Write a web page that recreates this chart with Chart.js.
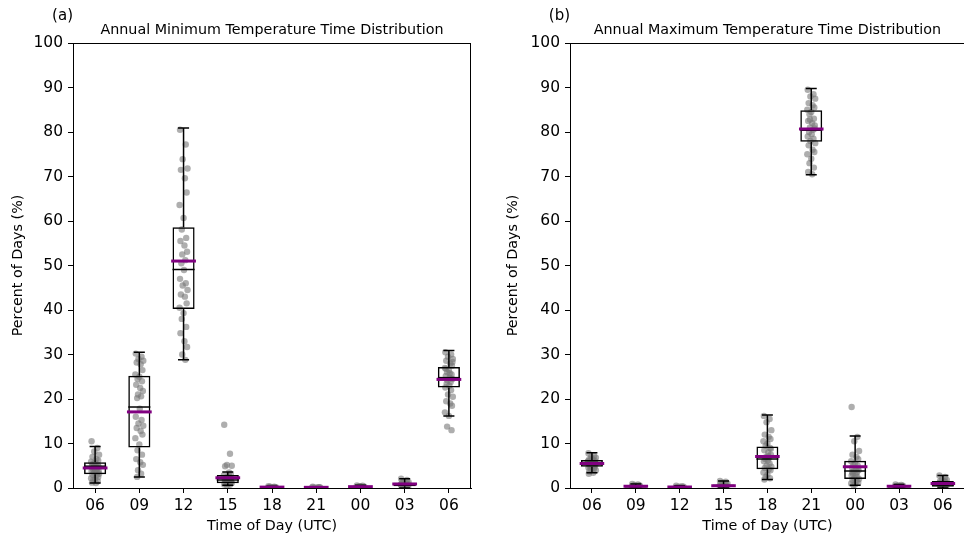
<!DOCTYPE html>
<html><head><meta charset="utf-8">
<script src="https://cdn.jsdelivr.net/npm/chart.js@4.4.0/dist/chart.umd.min.js"></script>
<style>
html,body{margin:0;padding:0;width:964px;height:537px;overflow:hidden;background:#fff}
#a{position:absolute;left:0;top:0}
#b{position:absolute;left:482px;top:0}
</style></head><body>
<canvas id="a" width="482" height="537"></canvas>
<canvas id="b" width="486" height="537"></canvas>
<script>
// ---------- data ----------
const categories = ['06','09','12','15','18','21','00','03','06'];
const yTickValues = [0,10,20,30,40,50,60,70,80,90,100];

// Panel (a): annual minimum temperature
const minWhiskerLow  = [1.1, 2.5, 28.8, 0.6, 0.0, 0.0, 0.0, 0.0, 16.2];
const minQ1          = [3.1, 9.1, 40.2, 1.05, 0.05, 0.03, 0.1, 0.4, 22.6];
const minMedian      = [4.9, 18.2, 49.1, 1.8, 0.1, 0.1, 0.2, 0.7, 24.8];
const minQ3          = [5.8, 25.2, 58.6, 2.9, 0.2, 0.15, 0.35, 1.2, 27.2];
const minWhiskerHigh = [9.3, 30.5, 80.9, 3.6, 0.4, 0.3, 0.6, 2.1, 30.9];
const minMean        = [4.5, 17.1, 51.0, 2.3, 0.2, 0.15, 0.3, 0.9, 24.4];
const minPoints = [
  [10.5,9.0,8.2,7.5,7.0,6.5,6.2,5.9,5.7,5.5,5.2,5.0,4.9,4.8,4.6,4.4,4.2,4.0,3.8,3.6,3.4,3.2,3.0,2.8,2.5,2.2,2.0,1.8,1.5,1.2,1.1,3.9,4.5],
  [30.2,29.5,29.0,28.6,28.2,27.8,26.5,25.5,25.0,24.5,24.0,23.2,22.5,21.8,21.0,20.6,20.2,17.8,16.0,15.3,14.5,14.0,13.5,12.8,12.0,11.2,9.8,8.5,7.5,6.5,5.8,5.2,4.0,3.2,2.5],
  [80.5,77.2,73.9,71.8,71.5,69.6,66.4,63.6,60.7,58.1,56.2,55.5,54.5,53.1,52.5,51.2,50.5,49.0,47.0,46.0,45.5,44.5,43.5,43.0,41.5,40.5,39.3,38.0,36.2,34.8,33.0,31.7,30.0,28.8],
  [14.2,7.7,5.2,5.0,4.9,3.5,3.0,2.8,2.5,2.3,2.0,1.8,1.6,1.5,1.3,1.2,1.0,0.9,0.8,0.7,0.6,1.1,1.9,2.6,1.4],
  [0.4,0.3,0.2,0.2,0.1,0.1,0.1,0.0,0.0,0.3,0.2,0.1],
  [0.3,0.2,0.1,0.1,0.0,0.0,0.2,0.1],
  [0.6,0.5,0.4,0.3,0.3,0.2,0.2,0.1,0.4],
  [2.1,1.8,1.5,1.3,1.2,1.0,0.9,0.8,0.7,0.6,0.5,0.4,0.3,0.2,0.1,0.8,1.1],
  [30.5,30.0,29.5,29.0,28.6,28.0,27.5,27.0,26.5,26.0,25.5,25.2,24.8,24.5,24.2,23.8,23.5,23.0,22.6,22.0,21.0,20.5,19.5,19.0,18.5,17.0,16.2,13.8,13.0,26.8,25.8,28.3]
];

// Panel (b): annual maximum temperature
const maxWhiskerLow  = [3.4, 0.0, 0.0, 0.0, 1.9, 70.4, 0.6, 0.0, 0.0];
const maxQ1          = [4.8, 0.2, 0.1, 0.2, 4.2, 77.8, 2.0, 0.2, 0.3];
const maxMedian      = [5.3, 0.3, 0.2, 0.4, 6.5, 80.4, 3.8, 0.3, 0.7];
const maxQ3          = [6.3, 0.5, 0.3, 0.8, 9.3, 84.9, 6.1, 0.5, 1.6];
const maxWhiskerHigh = [7.9, 0.9, 0.5, 1.6, 16.4, 89.8, 11.7, 0.8, 2.8];
const maxMean        = [5.5, 0.4, 0.2, 0.5, 7.1, 80.7, 4.8, 0.4, 1.0];
const maxPoints = [
  [7.8,7.2,7.0,6.8,6.5,6.3,6.1,6.0,5.8,5.6,5.5,5.4,5.3,5.2,5.1,5.0,4.9,4.8,4.6,4.4,4.2,4.0,3.7,3.4,5.7,5.9,6.6,5.3,4.7,3.2],
  [0.9,0.8,0.7,0.6,0.5,0.4,0.4,0.3,0.3,0.2,0.2,0.1,0.0,0.5],
  [0.5,0.4,0.3,0.3,0.2,0.2,0.1,0.1,0.0,0.0],
  [1.6,1.4,1.2,1.0,0.8,0.7,0.6,0.5,0.4,0.3,0.2,0.1,0.0,0.2],
  [16.2,15.5,14.8,13.0,12.0,11.5,11.0,10.5,10.0,9.5,9.0,8.5,8.0,7.5,7.0,6.8,6.5,6.2,6.0,5.5,5.0,4.8,4.5,4.2,4.0,3.5,3.0,2.5,2.2,1.9,7.2,8.8],
  [89.5,88.5,88.0,87.5,86.5,86.0,85.5,85.0,84.5,84.0,83.0,82.5,82.0,81.5,81.0,80.5,80.0,79.5,79.0,78.5,78.0,77.5,77.0,76.0,75.5,75.0,74.0,73.0,72.0,71.0,70.5,80.8,82.8],
  [18.2,11.5,10.5,8.3,7.5,7.0,6.5,6.0,5.6,5.2,5.0,4.6,4.2,4.0,3.8,3.5,3.2,3.0,2.8,2.5,2.2,2.0,1.8,1.5,1.2,1.0,0.8,0.6,4.4,3.6],
  [0.8,0.7,0.6,0.5,0.4,0.4,0.3,0.3,0.2,0.1,0.0],
  [2.8,2.5,2.0,1.8,1.6,1.4,1.2,1.0,0.9,0.8,0.7,0.6,0.5,0.4,0.3,0.2,0.1,0.0,1.1,1.5]
];

// fixed horizontal jitter pattern (category units)
const jitter = [-0.08,0.05,-0.02,0.09,-0.06,0.03,0.07,-0.09,0.0,-0.04,0.06,-0.07,0.02,0.08,-0.03,0.04,-0.05,0.01];

// ---------- chart ----------
Chart.defaults.font.family = "'DejaVu Sans', sans-serif";
Chart.defaults.color = '#000';

function makeChart(id, o) {
  const pts = [];
  o.points.forEach((arr, i) => arr.forEach((v, j) => pts.push({x: i + 1 + jitter[j % jitter.length], y: v})));
  const boxes = o.q1.map((v, i) => ({x: i + 1, y: [v, o.q3[i]]}));

  const boxPlugin = {
    id: 'boxExtras',
    afterDatasetsDraw(chart) {
      const {ctx, chartArea: a, scales: {x, y}} = chart;
      ctx.save();
      ctx.beginPath(); ctx.rect(a.left, a.top, a.right - a.left, a.bottom - a.top); ctx.clip();
      const hx = (i, w) => [x.getPixelForValue(i + 1 - w), x.getPixelForValue(i + 1 + w)];
      for (let i = 0; i < categories.length; i++) {
        const cx = x.getPixelForValue(i + 1);
        ctx.strokeStyle = '#000'; ctx.lineWidth = 1.5;
        ctx.beginPath();
        ctx.moveTo(cx, y.getPixelForValue(o.q3[i])); ctx.lineTo(cx, y.getPixelForValue(o.high[i]));
        ctx.moveTo(cx, y.getPixelForValue(o.q1[i])); ctx.lineTo(cx, y.getPixelForValue(o.low[i]));
        const [c0, c1] = hx(i, 0.125);
        ctx.moveTo(c0, y.getPixelForValue(o.high[i])); ctx.lineTo(c1, y.getPixelForValue(o.high[i]));
        ctx.moveTo(c0, y.getPixelForValue(o.low[i])); ctx.lineTo(c1, y.getPixelForValue(o.low[i]));
        ctx.stroke();
        const [b0, b1] = hx(i, 0.25);
        ctx.beginPath();
        ctx.moveTo(b0, y.getPixelForValue(o.median[i])); ctx.lineTo(b1, y.getPixelForValue(o.median[i]));
        ctx.stroke();
        const [m0, m1] = hx(i, 0.28);
        ctx.strokeStyle = '#800080'; ctx.lineWidth = 3;
        ctx.beginPath();
        ctx.moveTo(m0, y.getPixelForValue(o.mean[i])); ctx.lineTo(m1, y.getPixelForValue(o.mean[i]));
        ctx.stroke();
      }
      ctx.restore();
    },
    afterDraw(chart) {
      const {ctx, chartArea: a} = chart;
      ctx.save();
      ctx.strokeStyle = '#000'; ctx.lineWidth = 1;
      ctx.strokeRect(Math.round(a.left) + 0.5, Math.round(a.top) + 0.5, Math.round(a.right - a.left) - 1, Math.round(a.bottom - a.top));
      ctx.fillStyle = '#000';
      ctx.textBaseline = 'middle';
      ctx.textAlign = 'right';
      ctx.font = "15px 'DejaVu Sans'";
      ctx.fillText(o.panel, a.left, 16);
      ctx.textAlign = 'center';
      ctx.font = "14.3px 'DejaVu Sans'";
      ctx.fillText(o.title, (a.left + a.right) / 2, 30);
      ctx.restore();
    }
  };

  return new Chart(document.getElementById(id), {
    type: 'bar',
    data: {
      datasets: [
        {type: 'scatter', data: pts, order: 2, pointRadius: 3.2, pointHoverRadius: 3.2,
         backgroundColor: 'rgba(120,120,120,0.6)', borderWidth: 0},
        {type: 'bar', data: boxes, order: 1, backgroundColor: 'rgba(0,0,0,0)', borderColor: '#000',
         borderWidth: 1.5, borderSkipped: false, barPercentage: 0.5, categoryPercentage: 1.0}
      ]
    },
    options: {
      responsive: false, animation: false,
      layout: {padding: {top: 43, right: o.padRight, left: 0, bottom: 0}},
      plugins: {legend: {display: false}, tooltip: {enabled: false}},
      scales: {
        x: {
          type: 'linear', min: 0.5, max: 9.5, offset: false,
          afterBuildTicks: s => { s.ticks = categories.map((c, i) => ({value: i + 1})); },
          afterFit: s => { s.height = 49; },
          ticks: {callback: (v, i) => categories[i], font: {size: 15.5}, padding: 4, maxRotation: 0, autoSkip: false},
          grid: {display: true, drawOnChartArea: false, drawTicks: true, tickLength: 5, color: '#000', offset: false},
          border: {display: true, color: '#000', width: 1},
          title: {display: true, text: 'Time of Day (UTC)', font: {size: 14.3}, padding: {top: 0, bottom: 2.4}}
        },
        y: {
          type: 'linear', min: 0, max: 100,
          afterBuildTicks: s => { s.ticks = yTickValues.map(v => ({value: v})); },
          afterFit: s => { s.width = o.yWidth; },
          ticks: {font: {size: 15.5}, padding: 5},
          grid: {display: true, drawOnChartArea: false, drawTicks: true, tickLength: 5, color: '#000'},
          border: {display: true, color: '#000', width: 1},
          title: {display: true, text: 'Percent of Days (%)', font: {size: 14.3}, padding: {top: o.yTitlePad, bottom: 0}}
        }
      }
    },
    plugins: [boxPlugin]
  });
}

makeChart('a', {
  panel: '(a)', title: 'Annual Minimum Temperature Time Distribution',
  low: minWhiskerLow, q1: minQ1, median: minMedian, q3: minQ3, high: minWhiskerHigh, mean: minMean,
  points: minPoints, padRight: 11, yWidth: 73, yTitlePad: 9.4
});
makeChart('b', {
  panel: '(b)', title: 'Annual Maximum Temperature Time Distribution',
  low: maxWhiskerLow, q1: maxQ1, median: maxMedian, q3: maxQ3, high: maxWhiskerHigh, mean: maxMean,
  points: maxPoints, padRight: 2, yWidth: 88, yTitlePad: 22.4
});
</script>
</body></html>
